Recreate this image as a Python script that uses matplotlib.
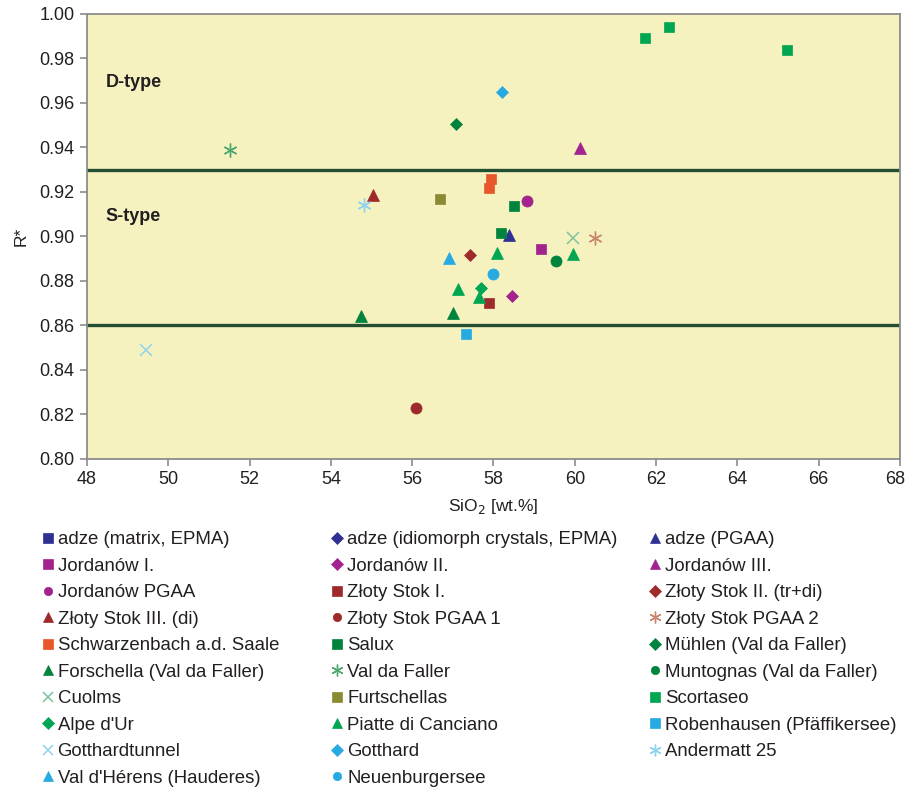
import matplotlib.pyplot as plt
from matplotlib.transforms import ScaledTranslation

plt.rcParams['font.family'] = ['Liberation Sans', 'DejaVu Sans']

# series in legend order (row by row)
names = ['adze (matrix, EPMA)', 'adze (idiomorph crystals, EPMA)', 'adze (PGAA)',
         'Jordanów I.', 'Jordanów II.', 'Jordanów III.',
         'Jordanów PGAA', 'Złoty Stok I.', 'Złoty Stok II. (tr+di)',
         'Złoty Stok III. (di)', 'Złoty Stok PGAA 1', 'Złoty Stok PGAA 2',
         'Schwarzenbach a.d. Saale', 'Salux', 'Mühlen (Val da Faller)',
         'Forschella (Val da Faller)', 'Val da Faller', 'Muntognas (Val da Faller)',
         'Cuolms', 'Furtschellas', 'Scortaseo',
         "Alpe d'Ur", 'Piatte di Canciano', 'Robenhausen (Pfäffikersee)',
         'Gotthardtunnel', 'Gotthard', 'Andermatt 25',
         "Val d'Hérens (Hauderes)", 'Neuenburgersee']

sio2 = [[], [], [58.38],
        [59.17], [58.46], [60.13],
        [58.82], [57.89], [57.42],
        [55.04], [56.09], [60.50],
        [57.94, 57.89], [58.50, 58.18], [57.08],
        [54.74, 57.00], [51.52], [59.54],
        [59.96], [56.68], [61.73, 62.32, 65.22],
        [57.69], [59.96, 58.09, 57.13, 57.64], [57.32],
        [49.45], [58.21], [54.81],
        [56.91], [57.99]]

rstar = [[], [], [0.9007],
         [0.8944], [0.8733], [0.9398],
         [0.9160], [0.8701], [0.8917],
         [0.9187], [0.8229], [0.8993],
         [0.9258, 0.9218], [0.9137, 0.9016], [0.9506],
         [0.8643, 0.8656], [0.9389], [0.8890],
         [0.8993], [0.9169], [0.989, 0.994, 0.984],
         [0.8769], [0.8921, 0.8926, 0.8764, 0.8728], [0.8562],
         [0.849], [0.965], [0.9142],
         [0.8903], [0.8831]]

ast = (6, 2, 0)
markers = ['s', 'D', '^',
           's', 'D', '^',
           'o', 's', 'D',
           '^', 'o', ast,
           's', 's', 'D',
           '^', ast, 'o',
           'x', 's', 's',
           'D', '^', 's',
           'x', 'D', ast,
           '^', 'o']

colors = ['#2e3192', '#2e3192', '#2e3192',
          '#a3238e', '#a3238e', '#a3238e',
          '#a3238e', '#9e2a2b', '#9e2a2b',
          '#9e2a2b', '#9e2a2b', '#c8876e',
          '#e8572a', '#00843d', '#00843d',
          '#00843d', '#4fa86f', '#00843d',
          '#7cc49a', '#8a8a32', '#00a651',
          '#00a651', '#00a651', '#27aae1',
          '#8fd3ee', '#27aae1', '#8fd3ee',
          '#27aae1', '#27aae1']

boundaries = [0.93, 0.86]

# marker size (plot, legend) and edge width per marker kind
sizes = {'s': (7.5, 7.0, 0.5), 'D': (6.5, 5.8, 0.5), '^': (9, 7.5, 0.5),
         'o': (8, 6.0, 0.5), 'x': (9, 7.5, 1.1), ast: (10, 8.5, 1.0)}

fig = plt.figure(figsize=(9.08, 7.89), dpi=100)
ax = fig.add_axes([0.0958, 0.4183, 0.8954, 0.564])
ax.set_facecolor('#f6f2c0')

for b in boundaries:
    ax.axhline(b, color='#224e31', lw=2.4, zorder=2)

handles = []
for nm, xs, ys, mk, c in zip(names, sio2, rstar, markers, colors):
    ms, _, mew = sizes[mk]
    h, = ax.plot(xs, ys, ls='none', marker=mk, ms=ms, color=c, mec=c,
                 mew=mew, label=nm, zorder=3)
    handles.append(h)

ax.text(48.45, 0.9694, 'D-type', fontsize=13, fontweight='bold', va='center', color='#231f20')
ax.text(48.45, 0.9088, 'S-type', fontsize=13, fontweight='bold', va='center', color='#231f20')

ax.set_xlim(48, 68)
ax.set_ylim(0.80, 1.00)
ax.set_xticks(range(48, 69, 2))
ax.set_yticks([0.80 + 0.02 * i for i in range(11)])
ax.yaxis.set_major_formatter(plt.FormatStrFormatter('%.2f'))
for s in ax.spines.values():
    s.set_color('#8c8c8c')
    s.set_linewidth(1.3)
ax.tick_params(direction='out', length=5, width=1.2, color='#8c8c8c',
               labelsize=13, labelcolor='#231f20', pad=4)
ax.set_xlabel('SiO$_2$ [wt.%]', fontsize=12.5, color='#231f20', labelpad=6)
ax.set_ylabel('R*', fontsize=12.5, color='#231f20', labelpad=8)

# keep the last x tick label inside the figure
fig.canvas.draw()
last = ax.get_xticklabels()[-1]
last.set_transform(last.get_transform() + ScaledTranslation(-5 / 100, 0, fig.dpi_scale_trans))

# three legend columns placed by hand
col_x = [0.0446, 0.3634, 0.7137]
for k in range(3):
    leg = fig.legend(handles[k::3], names[k::3], loc='upper left',
                     bbox_to_anchor=(col_x[k], 0.3269), frameon=False,
                     fontsize=13.4, handlelength=0.8, handletextpad=0.12,
                     labelspacing=0.51, borderpad=0, borderaxespad=0,
                     numpoints=1)
    for t in leg.get_texts():
        t.set_color('#231f20')
    for lh, mk in zip(leg.legend_handles, markers[k::3]):
        lh.set_markersize(sizes[mk][1])

fig.savefig('out.png', dpi=100)
